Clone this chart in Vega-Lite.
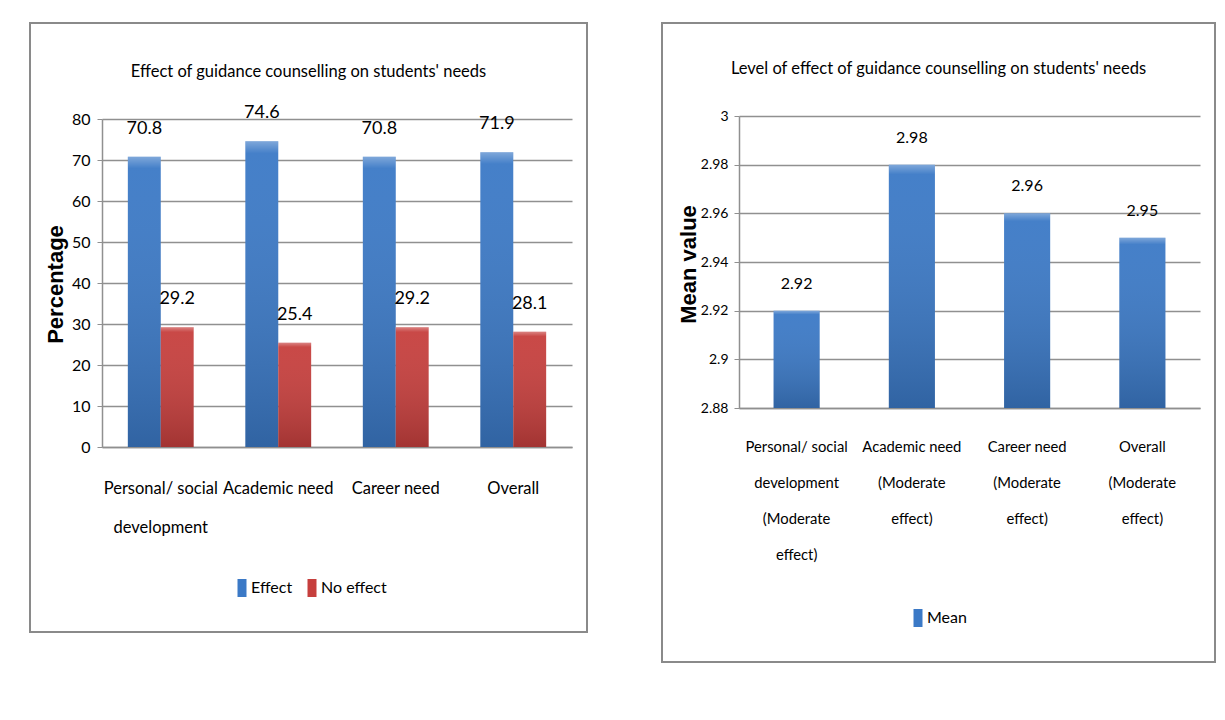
{
  "$schema": "https://vega.github.io/schema/vega-lite/v6.json",
  "background": "white",
  "padding": {"left": 29, "top": 22, "right": 0, "bottom": 0},
  "spacing": 73,
  "resolve": {"scale": {"color": "independent"}, "legend": {"color": "independent"}},
  "datasets": {
    "effect": [
      {"category": "Personal/ social development", "series": "Effect", "value": 70.8},
      {"category": "Personal/ social development", "series": "No effect", "value": 29.2},
      {"category": "Academic need", "series": "Effect", "value": 74.6},
      {"category": "Academic need", "series": "No effect", "value": 25.4},
      {"category": "Career need", "series": "Effect", "value": 70.8},
      {"category": "Career need", "series": "No effect", "value": 29.2},
      {"category": "Overall", "series": "Effect", "value": 71.9},
      {"category": "Overall", "series": "No effect", "value": 28.1}
    ],
    "level": [
      {"category": "Personal/ social development (Moderate effect)", "series": "Mean", "value": 2.92},
      {"category": "Academic need (Moderate effect)", "series": "Mean", "value": 2.98},
      {"category": "Career need (Moderate effect)", "series": "Mean", "value": 2.96},
      {"category": "Overall (Moderate effect)", "series": "Mean", "value": 2.95}
    ]
  },
  "config": {
    "view": {"stroke": "#8a8a8a", "strokeWidth": 2},
    "font": "Lato, sans-serif"
  },
  "hconcat": [
    {
      "width": 557,
      "height": 609,
      "data": {"name": "effect"},
      "title": {
        "text": "Effect of guidance counselling on students' needs",
        "frame": "group",
        "anchor": "middle",
        "offset": -65,
        "baseline": "middle",
        "fontSize": 16.5,
        "fontWeight": "normal",
        "font": "Lato, sans-serif",
        "color": "#000000"
      },
      "encoding": {
        "x": {
          "field": "category",
          "type": "nominal",
          "sort": ["Personal/ social development", "Academic need", "Career need", "Overall"],
          "scale": {"range": [72, 542], "paddingInner": 0.44, "paddingOuter": 0.22},
          "axis": {
            "title": null,
            "orient": "bottom",
            "offset": -185,
            "labelAngle": 0,
            "ticks": false,
            "domainColor": "#8f8f8f",
            "domainWidth": 1.5,
            "labelFont": "Lato, sans-serif",
            "labelFontSize": 16.5,
            "labelColor": "#000000",
            "labelPadding": 33.5,
            "labelLineHeight": 39,
            "labelLimit": 300,
            "labelExpr": "datum.value == 'Personal/ social development' ? ['Personal/ social', 'development'] : datum.value"
          }
        },
        "xOffset": {"field": "series", "type": "nominal", "scale": {"paddingInner": 0, "paddingOuter": 0}},
        "y": {
          "field": "value",
          "type": "quantitative",
          "scale": {"domain": [0, 80], "range": [424, 96], "nice": false},
          "axis": {
            "title": "Percentage",
            "titleFont": "Liberation Sans, Arial, sans-serif",
            "titleFontWeight": "bold",
            "titleFontSize": 22,
            "titleColor": "#000000",
            "titleX": -47,
            "titleY": 261,
            "titleBaseline": "middle",
            "offset": -72,
            "values": [0, 10, 20, 30, 40, 50, 60, 70, 80],
            "grid": true,
            "gridColor": "#909090",
            "gridWidth": 1.5,
            "domainColor": "#909090",
            "domainWidth": 1.5,
            "tickColor": "#909090",
            "tickSize": 5,
            "labelFont": "Lato, sans-serif",
            "labelFontSize": 16,
            "labelColor": "#000000",
            "labelPadding": 7
          }
        }
      },
      "layer": [
        {
          "mark": {"type": "bar"},
          "encoding": {
            "y2": {"datum": 0},
            "color": {
              "field": "series",
              "type": "nominal",
              "scale": {"domain": ["Effect", "No effect"], "range": ["#3B79C6", "#C63F3D"]},
              "legend": {
                "orient": "none",
                "legendX": 204,
                "legendY": 557,
                "direction": "horizontal",
                "title": null,
                "symbolType": "M-1,-2H1V2H-1Z",
                "symbolSize": 81,
                "symbolStrokeWidth": 0,
                "labelFont": "Lato, sans-serif",
                "labelFontSize": 16,
                "labelColor": "#000000",
                "labelOffset": 1,
                "columnPadding": 11
              }
            }
          }
        },
        {
          "mark": {
            "type": "bar",
            "fill": {
              "gradient": "linear", "x1": 0, "y1": 0, "x2": 0, "y2": 1,
              "stops": [
                {"offset": 0, "color": "rgba(255,255,255,0.35)"},
                {"offset": 0.04, "color": "rgba(255,255,255,0.05)"},
                {"offset": 1, "color": "rgba(0,0,0,0.18)"}
              ]
            }
          },
          "encoding": {"y2": {"datum": 0}}
        },
        {
          "mark": {"type": "text", "dy": -28, "baseline": "middle", "fontSize": 18, "font": "Lato, sans-serif", "color": "#000000"},
          "encoding": {"text": {"field": "value", "type": "quantitative", "format": ".1f"}}
        }
      ]
    },
    {
      "width": 553,
      "height": 639,
      "data": {"name": "level"},
      "title": {
        "text": "Level of effect of guidance counselling on students' needs",
        "frame": "group",
        "anchor": "middle",
        "offset": -62,
        "baseline": "middle",
        "fontSize": 16.5,
        "fontWeight": "normal",
        "font": "Lato, sans-serif",
        "color": "#000000"
      },
      "encoding": {
        "x": {
          "field": "category",
          "type": "nominal",
          "sort": ["Personal/ social development (Moderate effect)", "Academic need (Moderate effect)", "Career need (Moderate effect)", "Overall (Moderate effect)"],
          "scale": {"range": [77, 538], "paddingInner": 0.6, "paddingOuter": 0.3},
          "axis": {
            "title": null,
            "orient": "bottom",
            "offset": -254,
            "labelAngle": 0,
            "ticks": false,
            "domainColor": "#8f8f8f",
            "domainWidth": 1.5,
            "labelFont": "Lato, sans-serif",
            "labelFontSize": 14.8,
            "labelColor": "#000000",
            "labelPadding": 31.5,
            "labelLineHeight": 36,
            "labelLimit": 300,
            "labelExpr": "datum.value == 'Personal/ social development (Moderate effect)' ? ['Personal/ social', 'development', '(Moderate', 'effect)'] : datum.value == 'Academic need (Moderate effect)' ? ['Academic need', '(Moderate', 'effect)'] : datum.value == 'Career need (Moderate effect)' ? ['Career need', '(Moderate', 'effect)'] : ['Overall', '(Moderate', 'effect)']"
          }
        },
        "y": {
          "field": "value",
          "type": "quantitative",
          "scale": {"domain": [2.88, 3], "range": [385, 93], "nice": false, "zero": false},
          "axis": {
            "title": "Mean value",
            "titleFont": "Liberation Sans, Arial, sans-serif",
            "titleFontWeight": "bold",
            "titleFontSize": 22,
            "titleColor": "#000000",
            "titleX": -51,
            "titleY": 241,
            "titleBaseline": "middle",
            "offset": -77,
            "values": [2.88, 2.9, 2.92, 2.94, 2.96, 2.98, 3],
            "format": ".4~g",
            "grid": true,
            "gridColor": "#909090",
            "gridWidth": 1.5,
            "domainColor": "#909090",
            "domainWidth": 1.5,
            "tickColor": "#909090",
            "tickSize": 5,
            "labelFont": "Lato, sans-serif",
            "labelFontSize": 14,
            "labelColor": "#000000",
            "labelPadding": 6
          }
        }
      },
      "layer": [
        {
          "mark": {"type": "bar"},
          "encoding": {
            "y2": {"datum": 2.88},
            "color": {
              "field": "series",
              "type": "nominal",
              "scale": {"domain": ["Mean"], "range": ["#3B79C6"]},
              "legend": {
                "orient": "none",
                "legendX": 248,
                "legendY": 587,
                "direction": "horizontal",
                "title": null,
                "symbolType": "M-1,-2H1V2H-1Z",
                "symbolSize": 81,
                "symbolStrokeWidth": 0,
                "labelFont": "Lato, sans-serif",
                "labelFontSize": 16,
                "labelColor": "#000000",
                "labelOffset": 1
              }
            }
          }
        },
        {
          "mark": {
            "type": "bar",
            "fill": {
              "gradient": "linear", "x1": 0, "y1": 0, "x2": 0, "y2": 1,
              "stops": [
                {"offset": 0, "color": "rgba(255,255,255,0.35)"},
                {"offset": 0.04, "color": "rgba(255,255,255,0.05)"},
                {"offset": 1, "color": "rgba(0,0,0,0.18)"}
              ]
            }
          },
          "encoding": {"y2": {"datum": 2.88}}
        },
        {
          "mark": {"type": "text", "dy": -27, "baseline": "middle", "fontSize": 16, "font": "Lato, sans-serif", "color": "#000000"},
          "encoding": {"text": {"field": "value", "type": "quantitative", "format": ".2f"}}
        }
      ]
    }
  ]
}
